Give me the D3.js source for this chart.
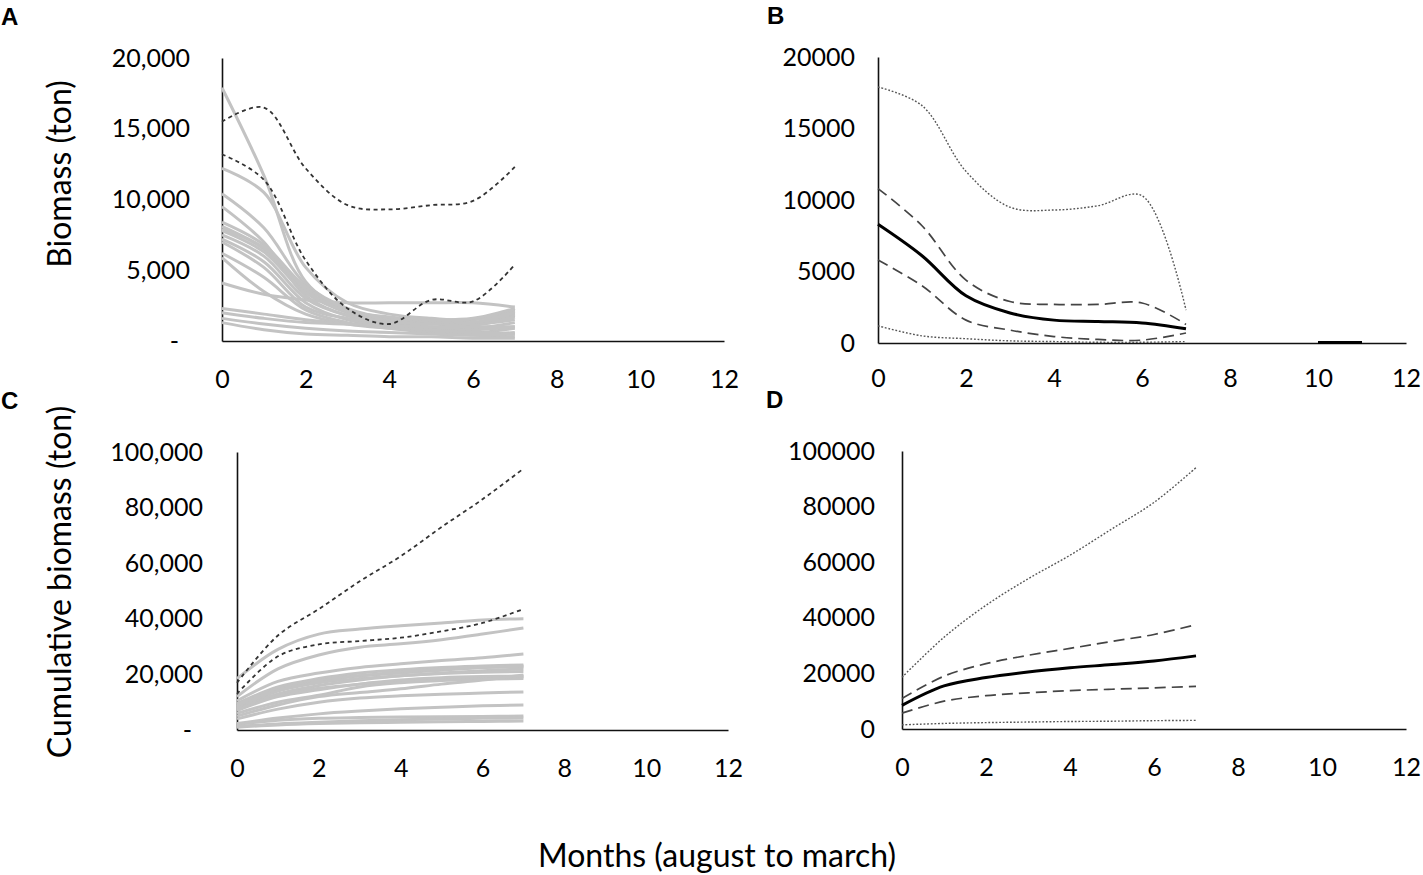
<!DOCTYPE html>
<html lang="en">
<head>
<meta charset="UTF-8">
<title>Biomass per month</title>
<script src="https://cdn.jsdelivr.net/npm/d3@7"></script>
<style>
  body { margin: 0; background: #fff; }
  svg text { font-family: Lato, sans-serif; fill: #000; }
  .tick text { font-size: 25px; }
  .domain { stroke: #111; stroke-width: 1.6; }
  .letter { font-family: "Liberation Sans", Arial, sans-serif; font-weight: bold; font-size: 24px; }
  .title { font-size: 32px; }
</style>
</head>
<body>
<svg id="chart" width="1423" height="875"></svg>
<script>
// months since august
const months = [0, 1, 2, 3, 4, 5, 6, 7];
const xTicks = [0, 2, 4, 6, 8, 10, 12];
const biomassTicks = [0, 5000, 10000, 15000, 20000];
const cumulTicks = [0, 20000, 40000, 60000, 80000, 100000];

// A: biomass (ton) of each run, one row per run
const biomassRuns = [
  [17900, 11700, 4200, 2200, 1600, 1300, 1200, 1500],
  [12200, 10500, 5200, 2700, 1900, 1600, 1500, 2100],
  [10400, 8000, 4000, 2300, 1600, 1500, 1300, 1900],
  [9500, 7000, 3200, 1800, 1200, 900, 600, 900],
  [8400, 6800, 3800, 2200, 1600, 1400, 1500, 2200],
  [8100, 6500, 3500, 2000, 1500, 1300, 1200, 1800],
  [7900, 6600, 3600, 2000, 1300, 1000, 900, 1300],
  [7800, 6300, 3400, 2100, 1700, 1500, 1600, 2300],
  [7500, 6000, 3000, 1800, 1400, 1200, 1300, 2000],
  [7200, 5600, 2700, 1500, 1100, 900, 800, 1000],
  [7000, 5200, 2400, 1600, 1300, 1200, 1100, 1700],
  [6200, 4500, 2200, 1300, 900, 600, 400, 300],
  [5900, 3500, 1900, 1200, 900, 700, 500, 600],
  [4100, 3300, 2900, 2700, 2700, 2700, 2700, 2400],
  [2300, 1900, 1500, 1200, 1000, 800, 600, 500],
  [2000, 1600, 1300, 1200, 1100, 1000, 1000, 1000],
  [1600, 1200, 900, 700, 600, 500, 400, 500],
  [1300, 800, 500, 400, 300, 300, 200, 200]
];
const biomassEnvHi = [15500, 16500, 12200, 9600, 9300, 9600, 9900, 12300];
const biomassEnvLo = [13200, 11400, 5700, 2300, 1200, 2900, 2800, 5400];

// B: summary of biomass
const biomassMax = [17900, 16600, 12000, 9500, 9300, 9600, 10300, 2300];
const biomassCiHi = [10800, 8200, 4400, 2900, 2700, 2700, 2800, 1300];
const biomassMean = [8300, 6100, 3300, 2100, 1600, 1500, 1400, 1000];
const biomassCiLo = [5800, 4000, 1600, 900, 450, 250, 200, 700];
const biomassMin = [1200, 500, 300, 150, 100, 50, 50, 100];
const tailMonths = [10, 11];
const tailMean = [40, 40];

// C: cumulative biomass (ton) of each run
const cumulRuns = [
  [18500, 29000, 34500, 36300, 37500, 38500, 39600, 40000],
  [12000, 22000, 27000, 29800, 31000, 32500, 34500, 36700],
  [10500, 17500, 20500, 22500, 23800, 25000, 26000, 27300],
  [9500, 15500, 18500, 20500, 21700, 22500, 23000, 23400],
  [9000, 15000, 18000, 19500, 20500, 21500, 22500, 23000],
  [8500, 14500, 17500, 19500, 21000, 22000, 22500, 22700],
  [8000, 14000, 17000, 18500, 19500, 20500, 21300, 22000],
  [7500, 13000, 16000, 18000, 19500, 20300, 20800, 21000],
  [7500, 12500, 15000, 16500, 17500, 18200, 18700, 19100],
  [7000, 12000, 14500, 16500, 18000, 18800, 19200, 19400],
  [6000, 10000, 12500, 15500, 17000, 17800, 18300, 18500],
  [5000, 9000, 12000, 13500, 14800, 16500, 18000, 19800],
  [4000, 7500, 10000, 11500, 12300, 12900, 13300, 13700],
  [2300, 4300, 5800, 6800, 7600, 8200, 8700, 9000],
  [2000, 3500, 4200, 4500, 4700, 4800, 4900, 5000],
  [1300, 2200, 2800, 3300, 3700, 4000, 4200, 4300],
  [1000, 1800, 2300, 2600, 2800, 3000, 3100, 3200]
];
const cumulEnvHi = [17000, 34000, 43500, 53500, 62500, 73000, 83000, 94000];
const cumulEnvLo = [13000, 26500, 30800, 32000, 33200, 35500, 38500, 43500];

// D: summary of cumulative biomass
const cumulMax = [18600, 33000, 44500, 54000, 62500, 72000, 81500, 94000];
const cumulCiHi = [11000, 19000, 23500, 26500, 29000, 31500, 34000, 37500];
const cumulMean = [8500, 15500, 18500, 20500, 22000, 23200, 24500, 26300];
const cumulCiLo = [5700, 10000, 12000, 13000, 13800, 14300, 14800, 15300];
const cumulMin = [1500, 2000, 2300, 2500, 2700, 2800, 3000, 3100];

const svg = d3.select("#chart");
svg.append("rect").attr("width", 1423).attr("height", 875).attr("fill", "#fff");

const accounting = d => d === 0 ? "-" : d3.format(",")(d);
const plain = d3.format("d");

const styles = {
  run:   {stroke: "#c3c3c3", width: 3, dash: null},
  env:   {stroke: "#333", width: 1.8, dash: "4,3.5"},
  range: {stroke: "#555", width: 1.4, dash: "1.8,1.8"},
  ci:    {stroke: "#444", width: 1.7, dash: "11,6"},
  mean:  {stroke: "#000", width: 3, dash: null}
};

function panel(cfg) {
  const x = d3.scaleLinear().domain([0, 12]).range(cfg.xr);
  const y = d3.scaleLinear().domain([0, cfg.ymax]).range(cfg.yr);
  const g = svg.append("g");

  g.append("g")
    .attr("transform", `translate(0,${cfg.yr[0]})`)
    .call(d3.axisBottom(x).tickValues(xTicks).tickSize(0).tickPadding(cfg.xpad));

  const ya = g.append("g")
    .attr("transform", `translate(${cfg.xr[0]},0)`)
    .call(d3.axisLeft(y).tickValues(cfg.ticks).tickSize(0).tickPadding(cfg.ypad).tickFormat(cfg.fmt));
  if (cfg.fmt === accounting)
    ya.selectAll(".tick text").filter(d => d === 0).attr("dx", -11);

  const line = d3.line()
    .x((d, i) => x(months[i]))
    .y(d => y(d))
    .curve(d3.curveCatmullRom.alpha(0.5));

  cfg.series.forEach(([rows, kind]) => {
    const s = styles[kind];
    g.append("g").selectAll("path").data(rows).join("path")
      .attr("d", line)
      .attr("fill", "none")
      .attr("stroke", s.stroke)
      .attr("stroke-width", s.width)
      .attr("stroke-dasharray", s.dash);
  });
  return {g, x, y};
}

panel({
  xr: [222, 724], yr: [341, 58], ymax: 20000, ticks: biomassTicks, fmt: accounting,
  xpad: 29, ypad: 32,
  series: [[biomassRuns, "run"], [[biomassEnvHi, biomassEnvLo], "env"]]
});

const pB = panel({
  xr: [878, 1406], yr: [343, 57], ymax: 20000, ticks: biomassTicks, fmt: plain,
  xpad: 26, ypad: 23,
  series: [[[biomassMax, biomassMin], "range"], [[biomassCiHi, biomassCiLo], "ci"], [[biomassMean], "mean"]]
});
pB.g.append("line")
  .attr("x1", pB.x(tailMonths[0])).attr("x2", pB.x(tailMonths[1]))
  .attr("y1", pB.y(tailMean[0])).attr("y2", pB.y(tailMean[1]))
  .attr("stroke", "#000").attr("stroke-width", 3);

panel({
  xr: [237, 728], yr: [730, 452], ymax: 100000, ticks: cumulTicks, fmt: accounting,
  xpad: 29, ypad: 34,
  series: [[cumulRuns, "run"], [[cumulEnvHi, cumulEnvLo], "env"]]
});

panel({
  xr: [902, 1406], yr: [729, 451], ymax: 100000, ticks: cumulTicks, fmt: plain,
  xpad: 29, ypad: 27,
  series: [[[cumulMax, cumulMin], "range"], [[cumulCiHi, cumulCiLo], "ci"], [[cumulMean], "mean"]]
});

// panel letters
[["A", 1, 25], ["B", 767, 24], ["C", 1, 409], ["D", 766, 408]].forEach(([t, lx, ly]) =>
  svg.append("text").attr("class", "letter").attr("x", lx).attr("y", ly).text(t));

// axis titles
svg.append("text").attr("class", "title").attr("text-anchor", "middle")
  .attr("transform", "translate(71,174) rotate(-90)").text("Biomass (ton)");
svg.append("text").attr("class", "title").attr("text-anchor", "middle")
  .attr("transform", "translate(71,582) rotate(-90)").text("Cumulative biomass (ton)");
svg.append("text").attr("class", "title").attr("text-anchor", "middle")
  .attr("x", 717).attr("y", 867).text("Months (august to march)");
</script>
</body>
</html>
